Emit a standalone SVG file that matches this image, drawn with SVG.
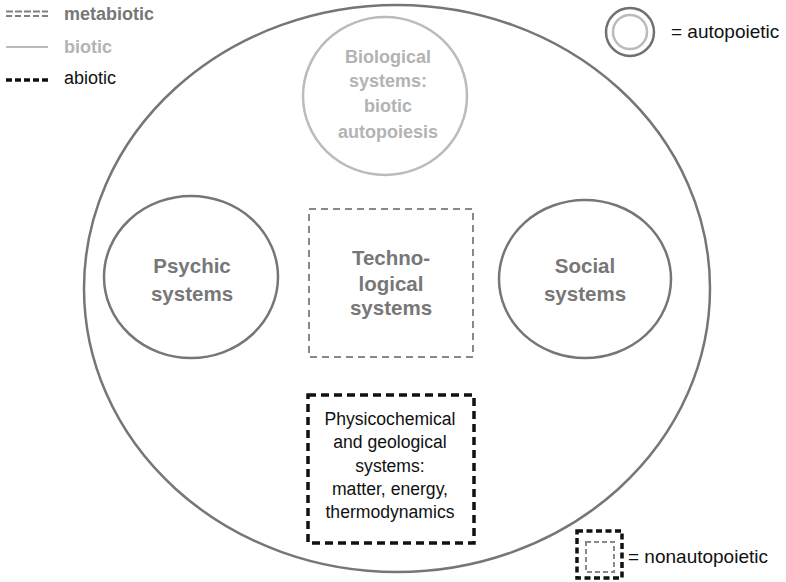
<svg xmlns="http://www.w3.org/2000/svg" width="786" height="582" viewBox="0 0 786 582">
<style>
text{font-family:"Liberation Sans",Arial,sans-serif;text-anchor:middle}
.meta{fill:#777;font-weight:bold;font-size:20.5px}
.bio{fill:#b3b3b3;font-weight:bold;font-size:18px}
.abio{fill:#111;font-size:17.6px}
.leg{font-size:18px;text-anchor:start}
.leg2{font-size:19px;text-anchor:start}
.sys{fill:none;stroke:#767676;stroke-width:2.5}
</style>
<rect width="786" height="582" fill="#fff"/>
<g id="legend">
<line x1="6" y1="11.5" x2="48" y2="11.5" stroke="#808080" stroke-width="2" stroke-dasharray="7,2"/>
<line x1="6" y1="16" x2="48" y2="16" stroke="#808080" stroke-width="2" stroke-dasharray="6,3"/>
<text x="64" y="20" class="leg" fill="#777" font-weight="bold">metabiotic</text>
<line x1="6" y1="47" x2="48" y2="47" stroke="#bbb" stroke-width="2.2"/>
<text x="64" y="53" class="leg" fill="#b3b3b3" font-weight="bold">biotic</text>
<line x1="6" y1="80" x2="48" y2="80" stroke="#111" stroke-width="3.5" stroke-dasharray="6,3"/>
<text x="64" y="84" class="leg" fill="#111">abiotic</text>
</g>
<g id="legend-autopoietic">
<circle cx="630" cy="32" r="24" fill="none" stroke="#707070" stroke-width="2.5"/>
<circle cx="630" cy="32" r="17" fill="none" stroke="#bbb" stroke-width="2.5"/>
<text x="671" y="38" class="leg2" fill="#111">= autopoietic</text>
</g>
<g id="legend-nonautopoietic">
<rect x="577" y="531" width="45" height="47" fill="none" stroke="#111" stroke-width="3.5" stroke-dasharray="6,3.5"/>
<rect x="586" y="542" width="28" height="30" fill="none" stroke="#888" stroke-width="2" stroke-dasharray="5,3"/>
<text x="628" y="563" class="leg2" fill="#111">= nonautopoietic</text>
</g>
<g id="world">
<ellipse cx="397" cy="288.5" rx="313" ry="283.5" class="sys"/>
</g>
<g id="biological">
<ellipse cx="385" cy="96" rx="82" ry="79" fill="none" stroke="#bbb" stroke-width="2.5"/>
<text class="bio" x="388" y="63">Biological</text>
<text class="bio" x="388" y="87">systems:</text>
<text class="bio" x="388" y="112">biotic</text>
<text class="bio" x="388" y="138">autopoiesis</text>
</g>
<g id="psychic">
<ellipse cx="191" cy="277" rx="87" ry="81" class="sys"/>
<text class="meta" x="192" y="273">Psychic</text>
<text class="meta" x="192" y="301">systems</text>
</g>
<g id="social">
<ellipse cx="585" cy="279" rx="86" ry="79" class="sys"/>
<text class="meta" x="585" y="273">Social</text>
<text class="meta" x="585" y="301">systems</text>
</g>
<g id="technological">
<rect x="309" y="209" width="164" height="148" fill="none" stroke="#888" stroke-width="2" stroke-dasharray="7,5"/>
<text class="meta" x="391" y="265">Techno-</text>
<text class="meta" x="391" y="291">logical</text>
<text class="meta" x="391" y="315">systems</text>
</g>
<g id="physicochemical">
<rect x="308" y="395" width="166" height="148" fill="none" stroke="#111" stroke-width="3.5" stroke-dasharray="8,5"/>
<text class="abio" x="390" y="425">Physicochemical</text>
<text class="abio" x="390" y="448">and geological</text>
<text class="abio" x="390" y="472">systems:</text>
<text class="abio" x="390" y="495">matter, energy,</text>
<text class="abio" x="390" y="518">thermodynamics</text>
</g>
<g id="connectors"></g>
</svg>
